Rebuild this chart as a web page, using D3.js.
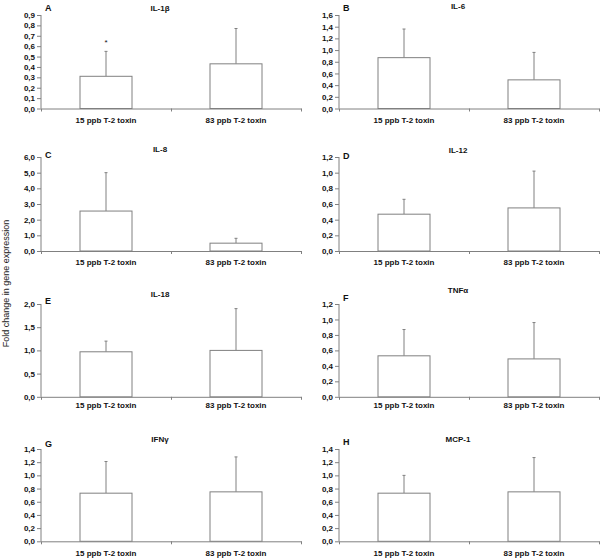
<!DOCTYPE html>
<html>
<head>
<meta charset="utf-8">
<script src="https://cdn.jsdelivr.net/npm/d3@7"></script>
<style>
  body { margin: 0; background: #fff; }
  svg { display: block; }
  text { font-family: "Liberation Sans", Arial, sans-serif; }
</style>
</head>
<body>
<svg id="chart" width="600" height="559"></svg>
<script>
// ---- data ----
const panelLetters = ["A", "B", "C", "D", "E", "F", "G", "H"];
const titles = ["IL-1β", "IL-6", "IL-8", "IL-12", "IL-18", "TNFα", "IFNγ", "MCP-1"];
const categories = ["15 ppb T-2 toxin", "83 ppb T-2 toxin"];
const means = [
  [0.31, 0.43],
  [0.87, 0.49],
  [2.55, 0.50],
  [0.47, 0.55],
  [0.97, 1.00],
  [0.53, 0.49],
  [0.73, 0.75],
  [0.73, 0.75]
];
const sds = [
  [0.24, 0.34],
  [0.49, 0.47],
  [2.45, 0.31],
  [0.19, 0.47],
  [0.23, 0.90],
  [0.34, 0.47],
  [0.48, 0.53],
  [0.27, 0.52]
];
const yMaxes = [0.9, 1.6, 6.0, 1.2, 2.0, 1.2, 1.4, 1.4];
const yStepsArr = [0.1, 0.2, 1.0, 0.2, 0.5, 0.2, 0.2, 0.2];
const significance = [["*", ""], ["", ""], ["", ""], ["", ""], ["", ""], ["", ""], ["", ""], ["", ""]];
const yAxisTitle = "Fold change in gene expression";

// ---- layout ----
const colX = [41, 339];
const axisW = 260;
const rowTop = [15, 157, 304, 449];
const rowBot = [108.5, 251, 396.8, 541.3];
const titleY = [11, 8.5, 152, 152.5, 296.7, 293, 442, 442];
const letterY = [10.5, 10.5, 158, 159, 304, 301, 447, 445];
const catLabelDy = [14.5, 14, 11.5, 14.5];
const axisColor = "#808080";

const svg = d3.select("#chart");
const fmt = v => d3.format(".1f")(v).replace(".", ",");

panelLetters.forEach((letter, i) => {
  const col = i % 2, row = Math.floor(i / 2);
  const x0 = colX[col];
  const g = svg.append("g");

  const x = d3.scaleBand().domain(categories).range([x0, x0 + axisW])
    .paddingInner(0.6).paddingOuter(0.3);
  const y = d3.scaleLinear().domain([0, yMaxes[i]]).range([rowBot[row], rowTop[row]]);

  const ticks = d3.range(0, Math.round(yMaxes[i] / yStepsArr[i]) + 1).map(k => +(k * yStepsArr[i]).toFixed(2));

  // y axis
  const yAxis = d3.axisLeft(y).tickValues(ticks).tickFormat(fmt).tickSize(4).tickPadding(2);
  const ya = g.append("g").attr("transform", `translate(${x0},0)`).call(yAxis);
  ya.select(".domain").attr("stroke", axisColor).attr("d", `M0,${y(yMaxes[i])}V${y(0)}`);
  ya.selectAll(".tick line").attr("stroke", axisColor);
  ya.selectAll(".tick text").attr("font-size", 8).attr("font-weight", "bold").attr("fill", "#111")
    .attr("font-family", "Liberation Sans, Arial, sans-serif");

  // x axis: baseline with boundary ticks
  const xb = d3.scaleLinear().domain([0, 2]).range([x0, x0 + axisW]);
  const xAxis = d3.axisBottom(xb).tickValues([0, 1, 2]).tickFormat("").tickSize(3).tickSizeOuter(0);
  const xa = g.append("g").attr("transform", `translate(0,${y(0)})`).call(xAxis);
  xa.select(".domain").attr("stroke", axisColor);
  xa.selectAll(".tick line").attr("stroke", axisColor);

  // category labels
  g.selectAll(".cat").data(categories).enter().append("text")
    .attr("x", d => x(d) + x.bandwidth() / 2)
    .attr("y", y(0) + catLabelDy[row])
    .attr("text-anchor", "middle")
    .attr("font-size", 8).attr("font-weight", "bold").attr("fill", "#111")
    .text(d => d);

  // error bars (upper only)
  const eb = g.selectAll(".err").data(categories).enter().append("g");
  eb.append("line")
    .attr("x1", d => x(d) + x.bandwidth() / 2)
    .attr("x2", d => x(d) + x.bandwidth() / 2)
    .attr("y1", (d, j) => y(means[i][j]))
    .attr("y2", (d, j) => y(means[i][j] + sds[i][j]))
    .attr("stroke", axisColor).attr("stroke-width", 1);
  eb.append("line")
    .attr("x1", d => x(d) + x.bandwidth() / 2 - 1.5)
    .attr("x2", d => x(d) + x.bandwidth() / 2 + 1.5)
    .attr("y1", (d, j) => y(means[i][j] + sds[i][j]))
    .attr("y2", (d, j) => y(means[i][j] + sds[i][j]))
    .attr("stroke", axisColor).attr("stroke-width", 1);

  // bars
  g.selectAll(".bar").data(categories).enter().append("rect")
    .attr("x", d => x(d))
    .attr("width", x.bandwidth())
    .attr("y", (d, j) => y(means[i][j]))
    .attr("height", (d, j) => y(0) - y(means[i][j]))
    .attr("fill", "#fff")
    .attr("stroke", axisColor).attr("stroke-width", 1);

  // significance markers
  g.selectAll(".sig").data(categories).enter().append("text")
    .attr("x", d => x(d) + x.bandwidth() / 2)
    .attr("y", (d, j) => y(means[i][j] + sds[i][j]) - 6)
    .attr("text-anchor", "middle")
    .attr("font-size", 8).attr("fill", "#111")
    .text((d, j) => significance[i][j]);

  // title
  g.append("text")
    .attr("x", x0 + 119).attr("y", titleY[i])
    .attr("text-anchor", "middle")
    .attr("font-size", 8).attr("font-weight", "bold").attr("fill", "#111")
    .text(titles[i]);

  // panel letter
  g.append("text")
    .attr("x", x0 + 4).attr("y", letterY[i])
    .attr("font-size", 9).attr("font-weight", "bold").attr("fill", "#111")
    .text(letter);
});

// shared y-axis title
svg.append("text")
  .attr("transform", "translate(9,283.5) rotate(-90)")
  .attr("text-anchor", "middle")
  .attr("font-size", 9).attr("fill", "#222")
  .text(yAxisTitle);
</script>
</body>
</html>
